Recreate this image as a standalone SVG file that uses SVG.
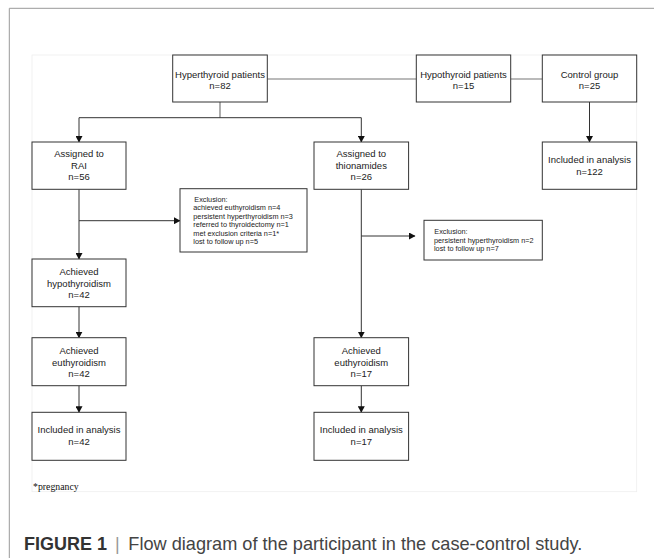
<svg xmlns="http://www.w3.org/2000/svg" width="654" height="558" viewBox="0 0 654 558">
<style>
.box{fill:#fff;stroke:#333;stroke-width:1}
.t{font-family:"Liberation Sans",Arial,sans-serif;font-size:9.5px;fill:#222;text-anchor:middle}
.ex{font-family:"Liberation Sans",Arial,sans-serif;font-size:7.3px;fill:#222}
.ln{fill:none;stroke:#333;stroke-width:1}
.lg{fill:none;stroke:#777;stroke-width:1.2}
</style>
<defs>
<marker id="ah" markerWidth="7" markerHeight="7" refX="6" refY="3.5" orient="auto" markerUnits="userSpaceOnUse">
<path d="M0,0 L6.5,3.5 L0,7 Z" fill="#111"/>
</marker>
</defs>
<rect x="0" y="0" width="654" height="558" fill="#fff"/>
<g id="frame">
<line x1="9.3" y1="8.3" x2="654" y2="8.3" stroke="#999" stroke-width="1"/>
<line x1="9.3" y1="8.3" x2="9.3" y2="558" stroke="#999" stroke-width="1"/>
<rect x="32" y="55" width="604.7" height="436.7" fill="none" stroke="#eee" stroke-width="0.8"/>
</g>
<g id="connectors">
<line class="lg" x1="267.3" y1="79" x2="416.3" y2="79"/>
<line class="lg" x1="510.7" y1="79" x2="542.3" y2="79"/>
<line class="lg" x1="220" y1="102" x2="220" y2="117.7"/>
<line class="ln" x1="79" y1="117.7" x2="361.3" y2="117.7"/>
<line class="ln" x1="79" y1="117.7" x2="79" y2="142" marker-end="url(#ah)"/>
<line class="ln" x1="361.3" y1="117.7" x2="361.3" y2="142" marker-end="url(#ah)"/>
<line class="ln" x1="589.5" y1="102" x2="589.5" y2="142" marker-end="url(#ah)"/>
<line class="ln" x1="79" y1="189.3" x2="79" y2="259" marker-end="url(#ah)"/>
<line class="ln" x1="79" y1="220.7" x2="180" y2="220.7" marker-end="url(#ah)"/>
<line class="ln" x1="361.3" y1="189.3" x2="361.3" y2="337.7" marker-end="url(#ah)"/>
<line class="ln" x1="361.3" y1="236" x2="415" y2="236" marker-end="url(#ah)"/>
<line class="ln" x1="79" y1="306.7" x2="79" y2="337.7" marker-end="url(#ah)"/>
<line class="ln" x1="79" y1="385.7" x2="79" y2="412.3" marker-end="url(#ah)"/>
<line class="ln" x1="361.3" y1="385.7" x2="361.3" y2="412.3" marker-end="url(#ah)"/>
</g>
<g id="hyper">
<rect class="box" x="172.7" y="55" width="94.6" height="47"/>
<text class="t" x="220" y="77.9">Hyperthyroid patients</text>
<text class="t" x="220" y="89.4">n=82</text>
</g>
<g id="hypo">
<rect class="box" x="416.3" y="55" width="94.4" height="47"/>
<text class="t" x="463.5" y="77.9">Hypothyroid patients</text>
<text class="t" x="463.5" y="89.4">n=15</text>
</g>
<g id="control">
<rect class="box" x="542.3" y="55" width="94.4" height="47"/>
<text class="t" x="589.5" y="77.9">Control group</text>
<text class="t" x="589.5" y="89.4">n=25</text>
</g>
<g id="rai">
<rect class="box" x="32" y="142" width="94" height="47.3"/>
<text class="t" x="79" y="157.4">Assigned to</text>
<text class="t" x="79" y="168.9">RAI</text>
<text class="t" x="79" y="180.4">n=56</text>
</g>
<g id="thion">
<rect class="box" x="314" y="142" width="94.6" height="47.3"/>
<text class="t" x="361.3" y="157.4">Assigned to</text>
<text class="t" x="361.3" y="168.9">thionamides</text>
<text class="t" x="361.3" y="180.4">n=26</text>
</g>
<g id="control-included">
<rect class="box" x="542.3" y="142" width="94.4" height="47.3"/>
<text class="t" x="589.5" y="163.4">Included in analysis</text>
<text class="t" x="589.5" y="174.9">n=122</text>
</g>
<g id="exclusion1">
<rect class="box" x="180" y="188.7" width="127" height="63.3"/>
<text class="ex" x="194.3" y="201.6">Exclusion:</text>
<text class="ex" x="193.3" y="209.9">achieved euthyroidism n=4</text>
<text class="ex" x="193.3" y="218.6">persistent hyperthyroidism n=3</text>
<text class="ex" x="193.3" y="227.3">referred to thyroidectomy n=1</text>
<text class="ex" x="193.3" y="235.6">met exclusion criteria n=1*</text>
<text class="ex" x="193.3" y="243.9">lost to follow up n=5</text>
</g>
<g id="exclusion2">
<rect class="box" x="424" y="220.3" width="118.3" height="39.7"/>
<text class="ex" x="434.3" y="233.6">Exclusion:</text>
<text class="ex" x="434" y="242.6">persistent hyperthyroidism n=2</text>
<text class="ex" x="434" y="251.3">lost to follow up n=7</text>
</g>
<g id="rai-hypo">
<rect class="box" x="32" y="259" width="94" height="47.7"/>
<text class="t" x="79" y="275.4">Achieved</text>
<text class="t" x="79" y="286.9">hypothyroidism</text>
<text class="t" x="79" y="298.4">n=42</text>
</g>
<g id="rai-euthyroid">
<rect class="box" x="32" y="337.7" width="94" height="48"/>
<text class="t" x="79" y="354.1">Achieved</text>
<text class="t" x="79" y="365.6">euthyroidism</text>
<text class="t" x="79" y="377.1">n=42</text>
</g>
<g id="rai-included">
<rect class="box" x="32" y="412.3" width="94" height="48"/>
<text class="t" x="79" y="433.4">Included in analysis</text>
<text class="t" x="79" y="444.9">n=42</text>
</g>
<g id="thion-euthyroid">
<rect class="box" x="314" y="337.7" width="94.6" height="48"/>
<text class="t" x="361.3" y="354.1">Achieved</text>
<text class="t" x="361.3" y="365.6">euthyroidism</text>
<text class="t" x="361.3" y="377.1">n=17</text>
</g>
<g id="thion-included">
<rect class="box" x="314" y="412.3" width="94.6" height="48"/>
<text class="t" x="361.3" y="433.4">Included in analysis</text>
<text class="t" x="361.3" y="444.9">n=17</text>
</g>
<g id="footnote">
<text x="33" y="489.5" font-family="'Liberation Serif','Times New Roman',serif" font-size="9.8px" fill="#111">*pregnancy</text>
</g>
<g id="caption">
<text x="24" y="550" font-family="'Liberation Sans',Arial,sans-serif" font-size="18.5px" font-weight="bold" fill="#333" textLength="83" lengthAdjust="spacingAndGlyphs">FIGURE 1</text>
<text x="115" y="550" font-family="'Liberation Sans',Arial,sans-serif" font-size="18px" fill="#999">|</text>
<text x="128.3" y="550" font-family="'Liberation Sans',Arial,sans-serif" font-size="18.5px" fill="#444" textLength="454" lengthAdjust="spacingAndGlyphs">Flow diagram of the participant in the case-control study.</text>
</g>
</svg>
